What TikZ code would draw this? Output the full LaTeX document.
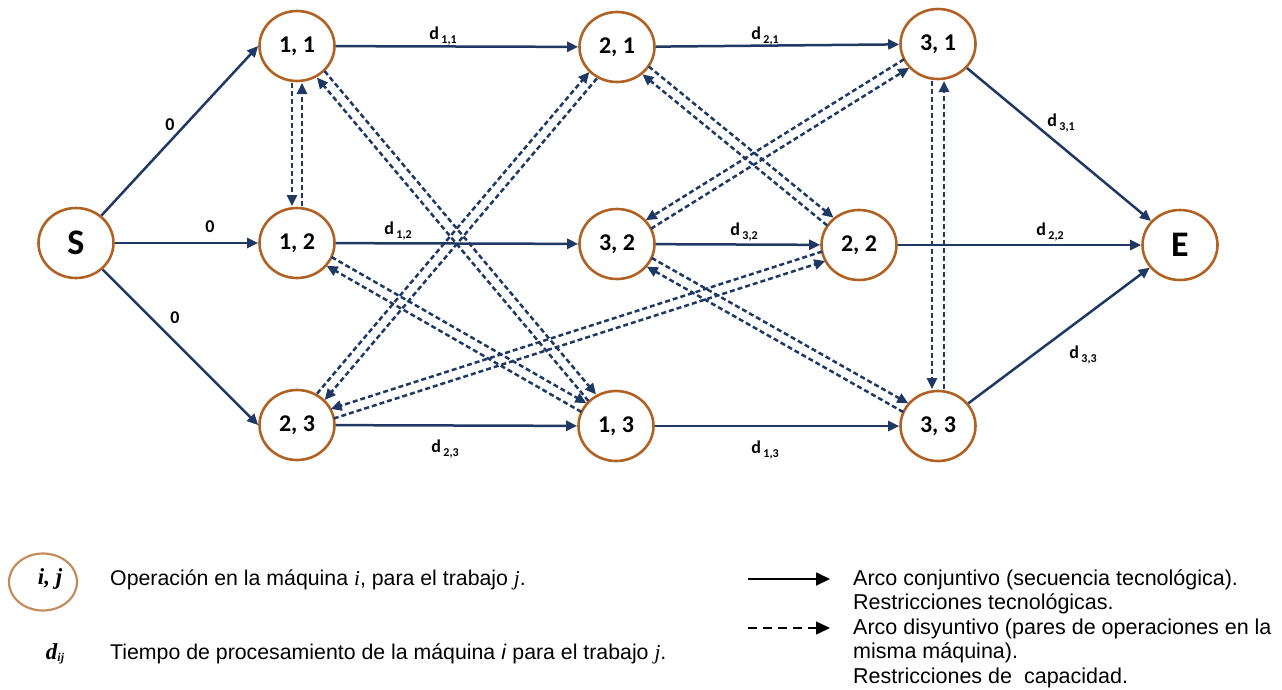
\documentclass[tikz,border=0pt]{standalone}
\usepackage{fontspec}
\setmainfont{Liberation Sans}
\newfontfamily\calib{Carlito}
\newfontfamily\tnr{Liberation Serif}
\usetikzlibrary{shapes.geometric,arrows.meta,calc}
\definecolor{navy}{RGB}{31,56,100}
\definecolor{nbrown}{RGB}{176,98,36}
\definecolor{lbrown}{RGB}{196,140,92}
\newcommand\dsub[1]{{\fontsize{18}{18}\selectfont d}\hspace{2.5pt}\raisebox{-4pt}{\fontsize{12}{12}\selectfont #1}}
\newcommand\dline[3]{\draw[dis] ($(#1)!#3!90:(#2)$) -- ($(#2)!#3!-90:(#1)$);}
\newcommand\dpair[3]{\dline{#1}{#2}{#3}\dline{#2}{#1}{#3}}
\tikzset{
 op/.style={ellipse, draw=nbrown, line width=2.6pt, minimum width=75pt, minimum height=70pt, inner sep=0pt, font=\calib\bfseries\fontsize{24}{24}\selectfont},
 ends/.style={op, font=\calib\bfseries\fontsize{36}{36}\selectfont},
 conj/.style={draw=navy, line width=2.5pt, -{Triangle[length=11pt,width=10pt]}},
 dis/.style={draw=navy, line width=2.5pt, dash pattern=on 5pt off 3pt, -{Triangle[length=11pt,width=10pt]}, shorten <=37pt, shorten >=37pt},
 lab/.style={font=\calib\bfseries\fontsize{18}{18}\selectfont, inner sep=0pt, text=black},
 legtxt/.style={anchor=base west, inner sep=0pt, font=\fontsize{21.5}{24.5}\selectfont},
 legtxtl/.style={anchor=base west, inner sep=0pt, font=\fontsize{21.3}{24.5}\selectfont},
}
\begin{document}
\begin{tikzpicture}[x=1pt,y=-1pt]
\useasboundingbox (0,0) rectangle (1282,689);
% nodes
\node[ends] (S) at (76,243) {S};
\node[op] (n11) at (297,46) {1, 1};
\node[op] (n12) at (297,243) {1, 2};
\node[op] (n23) at (297,425) {2, 3};
\node[op] (n21) at (617,47) {2, 1};
\node[op] (n32) at (617,244) {3, 2};
\node[op] (n13) at (616,426) {1, 3};
\node[op] (n22) at (859,245) {2, 2};
\node[op] (n31) at (938,44) {3, 1};
\node[op] (n33) at (938,426) {3, 3};
\node[ends] (E) at (1180,245) {E};
% conjunctive arcs
\draw[conj] (S) -- (n11.west);
\draw[conj] (S) -- (n12);
\draw[conj] (S) -- (n23.west);
\draw[conj] (n11) -- (n21);
\draw[conj] (n21) -- (n31);
\draw[conj] (n31) -- (E);
\draw[conj] (n12) -- (n32);
\draw[conj] (n32) -- (n22);
\draw[conj] (n22) -- (E);
\draw[conj] (n23) -- (n13);
\draw[conj] (n13) -- (n33);
\draw[conj] (n33) -- (E);
% disjunctive arcs
\dpair{n11}{n12}{-5pt}
\dpair{n11}{n13}{5pt}
\dpair{n12}{n13}{5pt}
\dpair{n21}{n23}{5pt}
\dpair{n21}{n22}{5pt}
\dpair{n22}{n23}{-5pt}
\dpair{n31}{n32}{-5pt}
\dpair{n32}{n33}{5pt}
\dpair{n31}{n33}{-6pt}
% labels
\node[lab] (z1) at (170,125) {0};
\node[lab] (z2) at (210,227) {0};
\node[lab] (z3) at (175,318) {0};
\node[lab] (l11) at (443,36) {\dsub{1,1}};
\node[lab] (l21) at (765,36) {\dsub{2,1}};
\node[lab] (l12) at (398,231) {\dsub{1,2}};
\node[lab] (l32) at (744,232) {\dsub{3,2}};
\node[lab] (l22) at (1050,232) {\dsub{2,2}};
\node[lab] (l31) at (1061,123) {\dsub{3,1}};
\node[lab] (l33) at (1083,355) {\dsub{3,3}};
\node[lab] (l23) at (445,449) {\dsub{2,3}};
\node[lab] (l13) at (765,450) {\dsub{1,3}};
% legend
\node[ellipse, draw=lbrown, line width=2.2pt, minimum width=68pt, minimum height=57pt, inner sep=0pt] (leg) at (43,582) {};
\node[inner sep=0pt, font=\tnr\bfseries\itshape\fontsize{23}{23}\selectfont] (legij) at (50,579) {i, j};
\node[inner sep=0pt, font=\tnr\bfseries\itshape\fontsize{23}{23}\selectfont] (legd) at (55,654) {d\fontsize{12}{12}\selectfont\raisebox{-2pt}{ij}};
\node[legtxtl] (t1) at (110,585) {Operación en la máquina {\tnr\itshape i}, para el trabajo {\tnr\itshape j}.};
\node[legtxtl] (t2) at (110,659) {Tiempo de procesamiento de la máquina \textit{i} para el trabajo {\tnr\itshape j}.};
\coordinate (la1) at (748,579);
\coordinate (la2) at (830,579);
\coordinate (lb1) at (748,628);
\coordinate (lb2) at (830,628);
\draw[line width=1.8pt, -{Triangle[length=14pt,width=13pt]}] (la1) -- (la2);
\draw[line width=1.5pt, dash pattern=on 9pt off 6pt, -{Triangle[length=14pt,width=13pt]}] (lb1) -- (lb2);
\node[legtxt] (r1) at (853,585) {Arco conjuntivo (secuencia tecnológica).};
\node[legtxt] (r2) at (853,609.5) {Restricciones tecnológicas.};
\node[legtxt] (r3) at (853,634) {Arco disyuntivo (pares de operaciones en la};
\node[legtxt] (r4) at (853,658.5) {misma máquina).};
\node[legtxt] (r5) at (853,683) {Restricciones de~~capacidad.};
\end{tikzpicture}
\end{document}
